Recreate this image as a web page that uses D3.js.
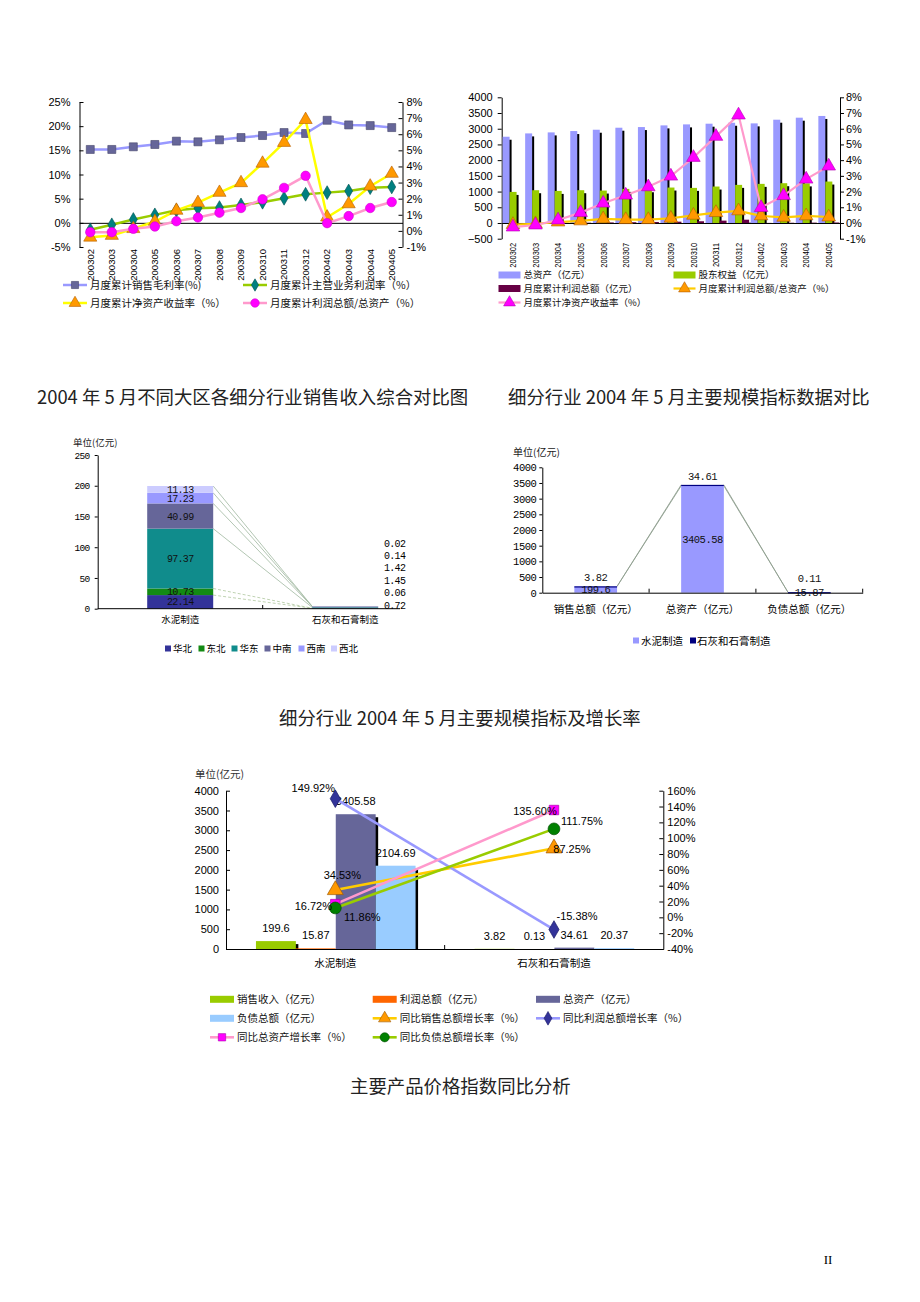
<!DOCTYPE html>
<html><head><meta charset="utf-8">
<script src="https://cdn.jsdelivr.net/npm/d3@7"></script>
<style>body{margin:0;background:#fff} svg{display:block}</style>
</head><body><svg id="page" width="920" height="1302"></svg>
<script>
// ================= DATA =================
const months = ["200302","200303","200304","200305","200306","200307","200308","200309","200310","200311","200312","200402","200403","200404","200405"];
// Chart 1 (percent)
const grossMargin    = [15.18,15.18,15.73,16.21,16.90,16.76,17.17,17.65,18.06,18.68,18.48,21.22,20.26,20.12,19.71];
const mainBizMargin  = [-1.44,-0.41,0.69,1.65,2.61,3.02,3.16,3.71,4.26,5.08,5.91,6.25,6.59,7.28,7.42];
const roe1           = [-0.40,-0.29,0.13,0.58,1.27,1.75,2.38,2.98,4.19,5.48,6.90,0.85,1.67,2.77,3.56];
const profitToAssets1= [-0.08,-0.08,0.13,0.27,0.60,0.83,1.13,1.42,1.96,2.67,3.42,0.48,0.92,1.42,1.79];
const leftTicks1  = [-5,0,5,10,15,20,25];
const rightTicks1 = [-1,0,1,2,3,4,5,6,7,8];
const legend1 = ["月度累计销售毛利率(%)","月度累计主营业务利润率（%）","月度累计净资产收益率（%）","月度累计利润总额/总资产（%）"];
// Chart 2
const totalAssets2 = [2745,2851,2883,2926,2968,3032,3053,3106,3138,3160,3190,3170,3287,3351,3406];
const equity2      = [989,1043,1021,1043,1032,1085,1074,1128,1117,1160,1213,1245,1266,1260,1319];
const profit2      = [-5,-2,5,10,18,25,32,42,55,75,105,3,8,12,16];
const profitToAssets2 = [-0.10,-0.05,0.06,0.13,0.26,0.21,0.21,0.30,0.49,0.66,0.77,0.45,0.36,0.45,0.38];
const roe2         = [-0.26,-0.13,0.19,0.66,1.26,1.77,2.30,2.98,4.17,5.51,6.87,0.98,1.74,2.79,3.62];
const leftTicks2  = [-500,0,500,1000,1500,2000,2500,3000,3500,4000];
const rightTicks2 = [-1,0,1,2,3,4,5,6,7,8];
const legend2 = ["总资产（亿元）","股东权益（亿元）","月度累计利润总额（亿元）","月度累计利润总额/总资产（%）","月度累计净资产收益率（%）"];
// Chart 3
const industries = ["水泥制造","石灰和石膏制造"];
const regions = ["华北","东北","华东","中南","西南","西北"];
const regionSalesCement = [22.14,10.73,97.37,40.99,17.23,11.13];
const regionSalesLime   = [0.72,0.06,1.45,1.42,0.14,0.02];
const ticks3 = [0,50,100,150,200,250];
// Chart 4
const scaleIndicators = ["销售总额（亿元）","总资产（亿元）","负债总额（亿元）"];
const scaleCement = [199.6,3405.58,15.87];
const scaleLime   = [3.82,34.61,0.11];
const ticks4 = [0,500,1000,1500,2000,2500,3000,3500,4000];
// Chart 5
const barNames5 = ["销售收入（亿元）","利润总额（亿元）","总资产（亿元）","负债总额（亿元）"];
const cementVals5 = [199.6,15.87,3405.58,2104.69];
const limeVals5   = [3.82,0.13,34.61,20.37];
const growthNames5 = ["同比销售总额增长率（%）","同比利润总额增长率（%）","同比总资产增长率（%）","同比负债总额增长率（%）"];
const salesGrowth  = [34.53,87.25];
const profitGrowth = [149.92,-15.38];
const assetGrowth  = [16.72,135.60];
const debtGrowth   = [11.86,111.75];
const leftTicks5  = [0,500,1000,1500,2000,2500,3000,3500,4000];
const rightTicks5 = [-40,-20,0,20,40,60,80,100,120,140,160];

// ================= STYLE =================
const SANS = "'Liberation Sans', Arial, sans-serif";
const CJK = "'Noto Sans CJK SC', sans-serif";
const MONO = "'Liberation Mono', monospace";
const SERIF = "'Liberation Serif', serif";
const plain = d3.format("d");

const svg = d3.select("#page");
svg.append("rect").attr("width",920).attr("height",1302).attr("fill","#fff");

function styleAxis(g, font, size, ls){
  g.attr("font-family",font).attr("font-size",size);
  g.selectAll("path.domain").attr("stroke","#000");
  g.selectAll(".tick line").attr("stroke","#000");
  g.selectAll(".tick text").attr("fill","#000");
  if(ls) g.selectAll(".tick text").attr("letter-spacing",ls);
}
function sym(type,size){ return d3.symbol().type(type).size(size)(); }
function txt(g,x,y,s,font,size,anchor,fill){
  return g.append("text").attr("x",x).attr("y",y).attr("dy","0.35em").text(s)
    .attr("font-family",font).attr("font-size",size).attr("text-anchor",anchor||"start").attr("fill",fill||"#000");
}

// ================= CHART 1 =================
{
  const g = svg.append("g");
  const x = d3.scaleBand().domain(months).range([79.5,402.5]);
  const yL = d3.scaleLinear().domain([-5,25]).range([247,102]);
  const yR = d3.scaleLinear().domain([-1,8]).range([247,102]);
  const cx = m => x(m)+x.bandwidth()/2;
  g.append("g").attr("transform","translate(79.5,0)")
    .call(d3.axisLeft(yL).tickValues(leftTicks1).tickFormat(d=>d+"%").tickSizeInner(-4).tickSizeOuter(0).tickPadding(9))
    .call(a=>styleAxis(a,SANS,11));
  g.append("g").attr("transform","translate(402.5,0)")
    .call(d3.axisRight(yR).tickValues(rightTicks1).tickFormat(d=>d+"%").tickSizeInner(-4).tickSizeOuter(0).tickPadding(4))
    .call(a=>styleAxis(a,SANS,11));
  g.append("g").attr("transform",`translate(0,${yL(0)})`)
    .call(d3.axisBottom(x).tickSize(0).tickFormat(""))
    .call(a=>styleAxis(a,SANS,10));
  g.append("g").attr("transform","translate(0,249)")
    .call(d3.axisBottom(x).tickSize(0).tickPadding(0))
    .call(a=>{a.select(".domain").remove(); styleAxis(a,SANS,9.5);})
    .selectAll("text").attr("transform","rotate(-90)").attr("text-anchor","end").attr("x",0).attr("y",0).attr("dy","0.35em");

  const series = [
    {v:grossMargin, y:yL, line:"#9999FF", type:d3.symbolSquare, size:64, fill:"#666699", stroke:"#44446a"},
    {v:mainBizMargin, y:yL, line:"#99CC00", type:d3.symbolDiamond, size:55, fill:"#008080", stroke:"#005050"},
    {v:roe1, y:yR, line:"#FFFF00", type:d3.symbolTriangle, size:75, fill:"#FF9900", stroke:"#b35c00"},
    {v:profitToAssets1, y:yR, line:"#FF99CC", type:d3.symbolCircle, size:70, fill:"#FF00FF", stroke:"#d000d0"}
  ];
  series.forEach(s=>{
    g.append("path").datum(s.v).attr("fill","none").attr("stroke",s.line).attr("stroke-width",2.5)
      .attr("d",d3.line().x((d,i)=>cx(months[i])).y(d=>s.y(d)));
    g.selectAll(null).data(s.v).enter().append("path")
      .attr("transform",(d,i)=>`translate(${cx(months[i])},${s.y(d)})`)
      .attr("d",sym(s.type,s.size)).attr("fill",s.fill).attr("stroke",s.stroke).attr("stroke-width",0.6);
  });
  // legend
  const pos = [[63,285],[243,285],[63,303],[243,303]];
  series.forEach((s,i)=>{
    const [lx,ly]=pos[i];
    g.append("line").attr("x1",lx).attr("x2",lx+24).attr("y1",ly).attr("y2",ly).attr("stroke",s.line).attr("stroke-width",2.5);
    g.append("path").attr("transform",`translate(${lx+12},${ly})`).attr("d",sym(s.type,s.size*0.8)).attr("fill",s.fill).attr("stroke",s.stroke).attr("stroke-width",0.6);
    txt(g,lx+27,ly,legend1[i],CJK,10.5,"start","#111");
  });
}

// ================= CHART 2 =================
{
  const g = svg.append("g");
  const x = d3.scaleBand().domain(months).range([501.7,840]);
  const yL = d3.scaleLinear().domain([-500,4000]).range([238.7,97.3]);
  const yR = d3.scaleLinear().domain([-1,8]).range([238.7,97.3]);
  const bw = x.bandwidth();
  const cx = m => x(m)+bw/2;
  g.append("g").attr("transform","translate(501.7,0)")
    .call(d3.axisLeft(yL).tickValues(leftTicks2).tickFormat(plain).tickSizeInner(4).tickSizeOuter(0).tickPadding(5))
    .call(a=>styleAxis(a,SANS,11));
  g.append("g").attr("transform","translate(840,0)")
    .call(d3.axisRight(yR).tickValues(rightTicks2).tickFormat(d=>d+"%").tickSizeInner(4).tickSizeOuter(0).tickPadding(2))
    .call(a=>styleAxis(a,SANS,11));
  const bars = [
    {v:totalAssets2, fill:"#9999FF"},
    {v:equity2, fill:"#99CC00"},
    {v:profit2, fill:"#660044"}
  ];
  const w = bw*0.31;
  months.forEach((m,i)=>{
    bars.forEach((b,k)=>{
      const v=b.v[i], x0=x(m)+bw*0.04+k*w;
      const top=Math.min(yL(v),yL(0)), h=Math.abs(yL(v)-yL(0));
      g.append("rect").attr("x",x0+2).attr("y",top+3).attr("width",w).attr("height",Math.max(h-2,0)).attr("fill","#000");
      g.append("rect").attr("x",x0).attr("y",top).attr("width",w).attr("height",h).attr("fill",b.fill);
    });
  });
  g.append("g").attr("transform",`translate(0,${yL(0)})`)
    .call(d3.axisBottom(x).tickSize(0).tickFormat(""))
    .call(a=>styleAxis(a,SANS,10));
  g.append("g").attr("transform","translate(0,243)")
    .call(d3.axisBottom(x).tickSize(0).tickPadding(0))
    .call(a=>{a.select(".domain").remove(); styleAxis(a,SANS,9.5);})
    .selectAll("text").attr("transform","rotate(-90) scale(0.78,1)").attr("text-anchor","end").attr("x",0).attr("y",0).attr("dy","0.35em");
  const lines = [
    {v:profitToAssets2, line:"#FFCC00", fill:"#FF9900", stroke:"#b35c00"},
    {v:roe2, line:"#FF99CC", fill:"#FF00FF", stroke:"#b000b0"}
  ];
  lines.forEach(s=>{
    g.append("path").datum(s.v).attr("fill","none").attr("stroke",s.line).attr("stroke-width",2.2)
      .attr("d",d3.line().x((d,i)=>cx(months[i])).y(d=>yR(d)));
    g.selectAll(null).data(s.v).enter().append("path")
      .attr("transform",(d,i)=>`translate(${cx(months[i])},${yR(d)})`)
      .attr("d",sym(d3.symbolTriangle,80)).attr("fill",s.fill).attr("stroke",s.stroke).attr("stroke-width",0.6);
  });
  // legend
  const rows=[275,288.5,302.5], cols=[498.5,673.5];
  const items=[
    {c:0,r:0,kind:"bar",fill:"#9999FF"},{c:1,r:0,kind:"bar",fill:"#99CC00"},
    {c:0,r:1,kind:"bar",fill:"#660044"},{c:1,r:1,kind:"line",s:lines[0]},
    {c:0,r:2,kind:"line",s:lines[1]}
  ];
  items.forEach((it,i)=>{
    const lx=cols[it.c], ly=rows[it.r];
    if(it.kind==="bar") g.append("rect").attr("x",lx).attr("y",ly-3.5).attr("width",22).attr("height",7).attr("fill",it.fill);
    else {
      g.append("line").attr("x1",lx).attr("x2",lx+22).attr("y1",ly).attr("y2",ly).attr("stroke",it.s.line).attr("stroke-width",2.2);
      g.append("path").attr("transform",`translate(${lx+11},${ly})`).attr("d",sym(d3.symbolTriangle,60)).attr("fill",it.s.fill).attr("stroke",it.s.stroke).attr("stroke-width",0.6);
    }
    txt(g,lx+25,ly,legend2[i],CJK,9.5,"start","#111");
  });
}

// ================= TITLES =================
txt(svg,37,398,"2004 年 5 月不同大区各细分行业销售收入综合对比图",CJK,18.4,"start","#222");
txt(svg,508,398,"细分行业 2004 年 5 月主要规模指标数据对比",CJK,18.4,"start","#222");
txt(svg,279,719,"细分行业 2004 年 5 月主要规模指标及增长率",CJK,18.4,"start","#222");
txt(svg,350,1087,"主要产品价格指数同比分析",CJK,18.4,"start","#222");
txt(svg,828,1259,"II",SERIF,13,"middle");

// ================= CHART 3 =================
{
  const g = svg.append("g");
  const x = d3.scaleBand().domain(industries).range([97.7,427.7]);
  const y = d3.scaleLinear().domain([0,250]).range([608.7,455]);
  const bw = x.bandwidth(), w = bw*0.4;
  const colors = ["#333399","#138a13","#108c8c","#666699","#9999FF","#CCCCFF"];
  g.append("g").attr("transform","translate(97.7,0)")
    .call(d3.axisLeft(y).tickValues(ticks3).tickFormat(plain).tickSizeInner(3).tickSizeOuter(0).tickPadding(5))
    .call(a=>styleAxis(a,MONO,9.5,-0.6));
  const stack = vals => { let c=0; return vals.map(v=>{const r=[c,c+v]; c+=v; return r;}); };
  const sc = stack(regionSalesCement), sl = stack(regionSalesLime);
  const x1r = x(industries[0])+bw*0.3+w, x2l = x(industries[1])+bw*0.3;
  sc.forEach((s,i)=>{
    g.append("line").attr("x1",x1r).attr("y1",y(s[1])).attr("x2",x2l).attr("y2",y(sl[i][1]))
      .attr("stroke", i<2 ? "#b0c8a0" : "#9fb89f").attr("stroke-width",0.8)
      .attr("stroke-dasharray", i<2 ? "3,2" : null);
  });
  [sc,sl].forEach((st,k)=>{
    st.forEach((s,i)=>{
      g.append("rect").attr("x",x(industries[k])+bw*0.3).attr("y",y(s[1])).attr("width",w)
        .attr("height",y(s[0])-y(s[1])).attr("fill",colors[i]);
    });
  });
  sc.forEach((s,i)=>{
    txt(g,x(industries[0])+bw/2,y((s[0]+s[1])/2),regionSalesCement[i].toFixed(2),MONO,10,"middle","#111").attr("letter-spacing",-0.7);
  });
  regionSalesLime.forEach((v,i)=>{
    txt(g,384,605-i*12.4,v.toFixed(2),MONO,10,"start").attr("letter-spacing",-0.7);
  });
  const xa = g.append("g").attr("transform","translate(0,608.7)")
    .call(d3.axisBottom(x).tickSize(0).tickPadding(8))
    .call(a=>styleAxis(a,CJK,9.5));
  xa.select(".domain").attr("d","M97.7,0H400");
  g.append("line").attr("x1",x(industries[1])).attr("x2",x(industries[1])).attr("y1",608.7).attr("y2",605).attr("stroke","#000");
  txt(g,73,443,"单位(亿元)",CJK,9.5,"start","#222");
  const lx=[165,198.5,231.5,264.5,298.5,331];
  regions.forEach((r,i)=>{
    g.append("rect").attr("x",lx[i]).attr("y",645.5).attr("width",6).attr("height",6).attr("fill",colors[i]);
    txt(g,lx[i]+8,649,r,CJK,9.5);
  });
}

// ================= CHART 4 =================
{
  const g = svg.append("g");
  const x = d3.scaleBand().domain(scaleIndicators).range([542.3,862.7]);
  const y = d3.scaleLinear().domain([0,4000]).range([592.7,467.3]);
  const bw = x.bandwidth(), w=bw*0.4;
  g.append("g").attr("transform","translate(542.3,0)")
    .call(d3.axisLeft(y).tickValues(ticks4).tickFormat(plain).tickSizeInner(3).tickSizeOuter(0).tickPadding(3))
    .call(a=>styleAxis(a,MONO,10.5,-0.5));
  const tops = scaleCement.map((v,i)=>v+scaleLime[i]);
  for(let i=0;i<scaleIndicators.length-1;i++){
    const xr=x(scaleIndicators[i])+bw*0.3+w, xl=x(scaleIndicators[i+1])+bw*0.3;
    [scaleCement, tops].forEach(arr=>{
      g.append("line").attr("x1",xr).attr("y1",y(arr[i])).attr("x2",xl).attr("y2",y(arr[i+1]))
        .attr("stroke","#8a9a8a").attr("stroke-width",0.8);
    });
  }
  scaleIndicators.forEach((c,i)=>{
    const x0=x(c)+bw*0.3;
    g.append("rect").attr("x",x0).attr("y",y(scaleCement[i])).attr("width",w).attr("height",y(0)-y(scaleCement[i])).attr("fill","#9999FF");
    g.append("rect").attr("x",x0).attr("y",y(tops[i])).attr("width",w).attr("height",Math.max(y(scaleCement[i])-y(tops[i]),1.2)).attr("fill","#000080");
    txt(g,x(c)+bw/2,y(scaleCement[i]/2),String(scaleCement[i]),MONO,10.5,"middle","#111").attr("letter-spacing",-0.5);
    txt(g,x(c)+bw/2,Math.min(y(tops[i])-9,578),String(scaleLime[i]),MONO,10.5,"middle","#111").attr("letter-spacing",-0.5);
  });
  g.append("g").attr("transform","translate(0,592.7)")
    .call(d3.axisBottom(x).tickSize(0).tickPadding(13))
    .call(a=>styleAxis(a,CJK,10.5));
  scaleIndicators.slice(1).map(c=>x(c)).concat([x.range()[1]]).forEach(px=>{
    g.append("line").attr("x1",px).attr("x2",px).attr("y1",588.7).attr("y2",592.7).attr("stroke","#000");
  });
  txt(g,513,452.7,"单位(亿元)",CJK,10,"start","#222");
  g.append("rect").attr("x",633).attr("y",637.5).attr("width",6).attr("height",6).attr("fill","#9999FF");
  txt(g,641,641,industries[0],CJK,10.5);
  g.append("rect").attr("x",690).attr("y",637.5).attr("width",6).attr("height",6).attr("fill","#000080");
  txt(g,697,641,industries[1],CJK,10.5);
}

// ================= CHART 5 =================
{
  const g = svg.append("g");
  const x = d3.scaleBand().domain(industries).range([226,663.3]);
  const yL = d3.scaleLinear().domain([0,4000]).range([949,790.7]);
  const yR = d3.scaleLinear().domain([-40,160]).range([949,790.7]);
  const bw = x.bandwidth(), w = bw*0.1825;
  const cx = c => x(c)+bw/2;
  g.append("g").attr("transform","translate(226,0)")
    .call(d3.axisLeft(yL).tickValues(leftTicks5).tickFormat(plain).tickSizeInner(-4).tickSizeOuter(0).tickPadding(7))
    .call(a=>styleAxis(a,SANS,11));
  g.append("g").attr("transform","translate(663.3,0)")
    .call(d3.axisRight(yR).tickValues(rightTicks5).tickFormat(d=>d+"%").tickSizeInner(-4).tickSizeOuter(0).tickPadding(4))
    .call(a=>styleAxis(a,SANS,11));
  const barColors = ["#99CC00","#FF6600","#666699","#99CCFF"];
  const vals = [cementVals5, limeVals5];
  industries.forEach((c,ci)=>{
    vals[ci].forEach((v,k)=>{
      const x0 = x(c)+bw*0.137+k*w;
      g.append("rect").attr("x",x0+2.5).attr("y",yL(v)+3).attr("width",w).attr("height",Math.max(yL(0)-yL(v)-3,0)).attr("fill","#000");
      g.append("rect").attr("x",x0).attr("y",yL(v)).attr("width",w).attr("height",Math.max(yL(0)-yL(v),0.8)).attr("fill",barColors[k]);
    });
  });
  g.append("g").attr("transform","translate(0,949)")
    .call(d3.axisBottom(x).tickSize(0).tickPadding(11))
    .call(a=>styleAxis(a,CJK,10.5));
  g.append("line").attr("x1",x(industries[1])).attr("x2",x(industries[1])).attr("y1",945).attr("y2",949).attr("stroke","#000");
  industries.forEach((c,ci)=>{
    vals[ci].forEach((v,k)=>{
      g.append("text").attr("x",x(c)+bw*0.137+k*w+w/2).attr("y",yL(v)-9).text(String(v))
        .attr("font-family",SANS).attr("font-size",11).attr("text-anchor","middle");
    });
  });
  const lines = [
    {v:salesGrowth, line:"#FFCC00", type:d3.symbolTriangle, size:110, fill:"#FF9900", stroke:"#a05a00"},
    {v:profitGrowth, line:"#9999FF", type:d3.symbolDiamond, size:90, fill:"#333399", stroke:"#1a1a66"},
    {v:assetGrowth, line:"#FF99CC", type:d3.symbolSquare, size:90, fill:"#FF00FF", stroke:"#b000b0"},
    {v:debtGrowth, line:"#99CC00", type:d3.symbolCircle, size:110, fill:"#008000", stroke:"#004d00"}
  ];
  const labelOffsets = [[[7,-15],[18,1]],[[-22,-11],[23,-13]],[[-22,2],[-19,1]],[[27,9],[28,-8]]];
  lines.forEach(s=>{
    g.append("path").datum(s.v).attr("fill","none").attr("stroke",s.line).attr("stroke-width",2.6)
      .attr("d",d3.line().x((d,i)=>cx(industries[i])).y(d=>yR(d)));
  });
  lines.forEach(s=>{
    g.selectAll(null).data(s.v).enter().append("path")
      .attr("transform",(d,i)=>`translate(${cx(industries[i])},${yR(d)})`)
      .attr("d",sym(s.type,s.size)).attr("fill",s.fill).attr("stroke",s.stroke).attr("stroke-width",0.7);
  });
  lines.forEach((s,si)=>{
    s.v.forEach((v,i)=>{
      const [dx,dy]=labelOffsets[si][i];
      txt(g,cx(industries[i])+dx,yR(v)+dy,v.toFixed(2)+"%",SANS,11,"middle");
    });
  });
  txt(g,195,774,"单位(亿元)",CJK,10.5,"start","#333");
  const rows=[999.3,1018.3,1037.3], cols=[210,372.7,536];
  const order = [
    {kind:"bar",i:0},{kind:"bar",i:1},{kind:"bar",i:2},
    {kind:"bar",i:3},{kind:"line",i:0},{kind:"line",i:1},
    {kind:"line",i:2},{kind:"line",i:3}
  ];
  order.forEach((it,n)=>{
    const lx=cols[n%3], ly=rows[Math.floor(n/3)];
    let label;
    if(it.kind==="bar"){
      g.append("rect").attr("x",lx).attr("y",ly-3.5).attr("width",24).attr("height",7).attr("fill",barColors[it.i]);
      label=barNames5[it.i];
    } else {
      const s=lines[it.i];
      g.append("line").attr("x1",lx).attr("x2",lx+24).attr("y1",ly).attr("y2",ly).attr("stroke",s.line).attr("stroke-width",2.6);
      g.append("path").attr("transform",`translate(${lx+12},${ly})`).attr("d",sym(s.type,s.size*0.6)).attr("fill",s.fill).attr("stroke",s.stroke).attr("stroke-width",0.6);
      label=growthNames5[it.i];
    }
    txt(g,lx+27,ly,label,CJK,10.5,"start","#111");
  });
}
</script></body></html>
